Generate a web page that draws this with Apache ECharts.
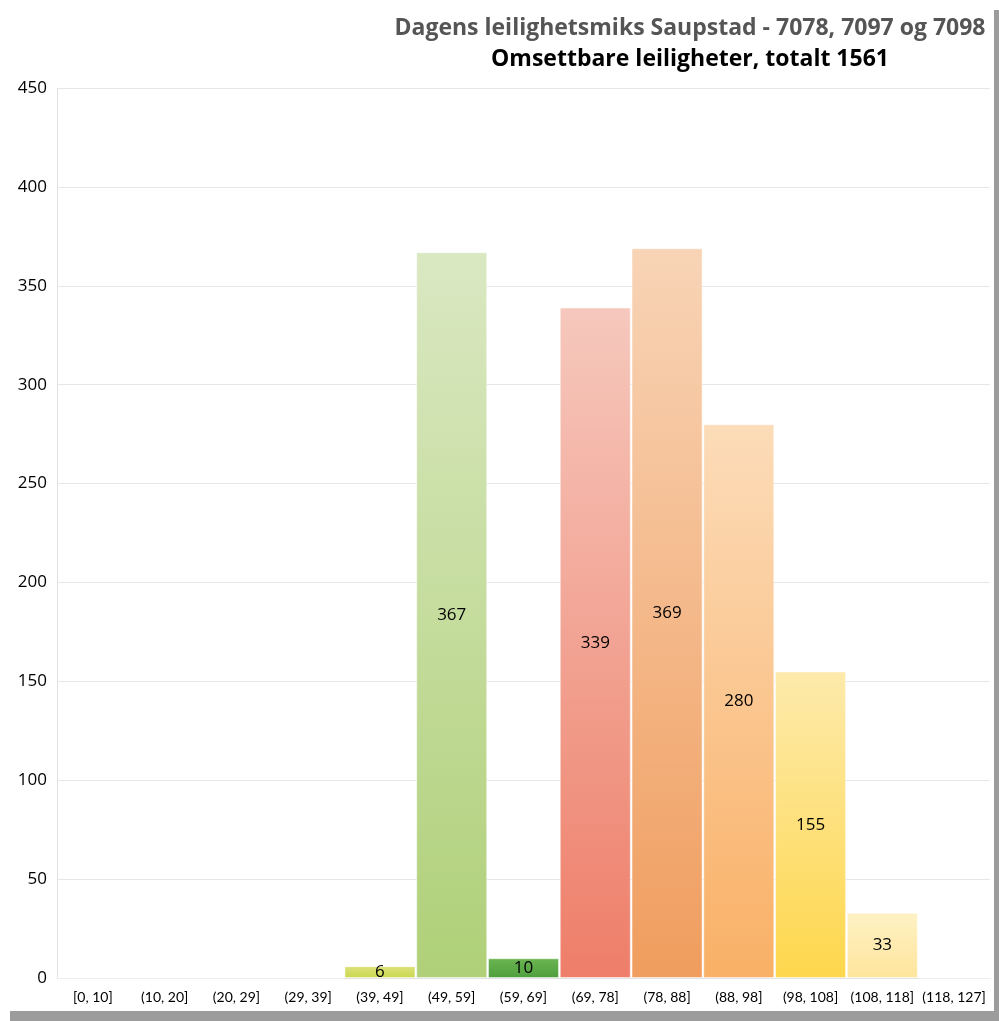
<!DOCTYPE html>
<html>
<head>
<meta charset="utf-8">
<script src="https://cdn.jsdelivr.net/npm/echarts@6/dist/echarts.min.js"></script>
<style>
  html, body { margin: 0; padding: 0; background: #fff; }
  #chart { width: 999px; height: 1021px; }
</style>
</head>
<body>
<div id="chart"></div>
<script>
// kategorier (kvm-intervaller) og antall leiligheter
var categories = ['[0, 10]', '(10, 20]', '(20, 29]', '(29, 39]', '(39, 49]', '(49, 59]',
  '(59, 69]', '(69, 78]', '(78, 88]', '(88, 98]', '(98, 108]', '(108, 118]', '(118, 127]'];
var counts = [0, 0, 0, 0, 6, 367, 10, 339, 369, 280, 155, 33, 0];
var yTicks = { min: 0, max: 450, interval: 50 };

// farger per stolpe: [topp, bunn]
var barColors = [
  ['#ffffff', '#ffffff'], ['#ffffff', '#ffffff'], ['#ffffff', '#ffffff'], ['#ffffff', '#ffffff'],
  ['#dde27a', '#c9d84e'],
  ['#dae8c2', '#afd078'],
  ['#6cb552', '#4e9e3d'],
  ['#f6c8bd', '#ee7e69'],
  ['#f8d4b6', '#f09d5e'],
  ['#fcdcb9', '#f9b066'],
  ['#fdeaab', '#fed74c'],
  ['#fef1c4', '#fee59c'],
  ['#ffffff', '#ffffff']
];

var dom = document.getElementById('chart');
var myChart = echarts.init(dom);

var seriesData = counts.map(function (v, i) {
  return {
    value: v,
    itemStyle: {
      color: new echarts.graphic.LinearGradient(0, 0, 0, 1, [
        { offset: 0, color: barColors[i][0] },
        { offset: 1, color: barColors[i][1] }
      ]),
      borderColor: 'rgba(255,255,255,0.5)',
      borderWidth: 1
    }
  };
});

var option = {
  backgroundColor: '#ffffff',
  textStyle: { fontFamily: '"Open Sans", sans-serif' },
  title: [{
    text: 'Dagens leilighetsmiks Saupstad - 7078, 7097 og 7098',
    left: 685,
    top: 12,
    textAlign: 'center',
    textStyle: { fontSize: 23, fontWeight: 'bold', color: '#555555', fontFamily: '"Open Sans"' }
  }, {
    text: 'Omsettbare leiligheter, totalt 1561',
    left: 685,
    top: 43,
    textAlign: 'center',
    textStyle: { fontSize: 23, fontWeight: 'bold', color: '#000000', fontFamily: '"Open Sans"' }
  }],
  grid: { left: 57, right: 9, top: 88, bottom: 43 },
  xAxis: {
    type: 'category',
    data: categories,
    axisLine: { lineStyle: { color: '#e2e2e2' } },
    axisTick: { show: false },
    axisLabel: { color: '#000', fontSize: 14, margin: 12, interval: 0, fontFamily: 'Lato' }
  },
  yAxis: {
    type: 'value',
    min: yTicks.min,
    max: yTicks.max,
    interval: yTicks.interval,
    axisLine: { show: true, lineStyle: { color: '#e2e2e2' } },
    axisTick: { show: false },
    axisLabel: { color: '#000', fontSize: 17, margin: 10, fontFamily: '"Open Sans"' },
    splitLine: { lineStyle: { color: '#e6e6e6' } }
  },
  series: [{
    type: 'bar',
    data: seriesData,
    barCategoryGap: '1%',
    label: {
      show: true,
      position: 'inside',
      color: '#000',
      fontSize: 17,
      fontFamily: '"Open Sans"',
      formatter: function (p) { return p.value > 0 ? p.value : ''; }
    }
  }],
  graphic: [
    { type: 'rect', shape: { x: 994, y: 10, width: 5, height: 1011 }, style: { fill: '#9c9c9c' }, silent: true },
    { type: 'rect', shape: { x: 10, y: 1011, width: 989, height: 10 }, style: { fill: '#9c9c9c' }, silent: true }
  ]
};

if (option && typeof option === 'object') {
  myChart.setOption(option, true);
}
window.addEventListener('resize', function () { myChart.resize(); });
</script>
</body>
</html>
